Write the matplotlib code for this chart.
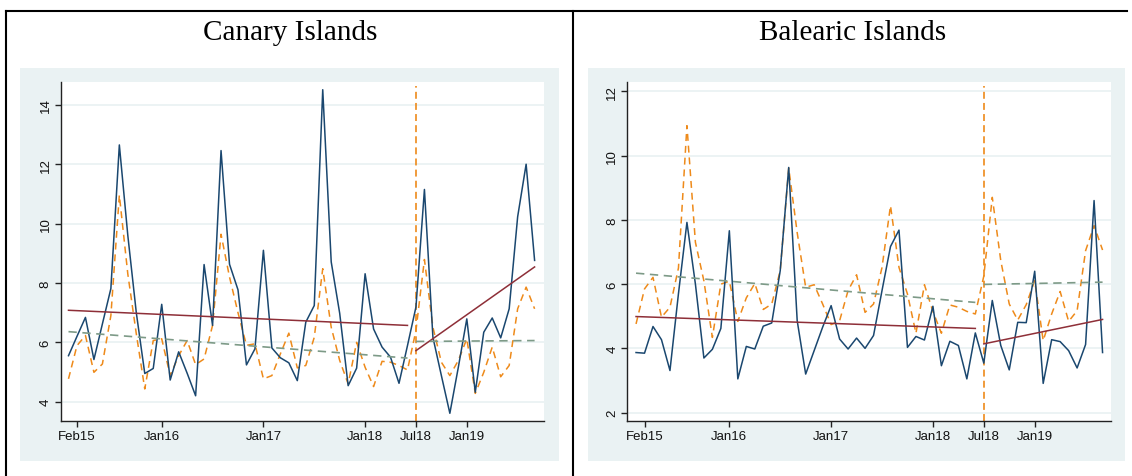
import matplotlib
matplotlib.use("Agg")
import matplotlib.pyplot as plt
from matplotlib.patches import Rectangle
from matplotlib.lines import Line2D
import numpy as np

# ---------------- data ----------------
tick_pos = [1, 11, 23, 35, 41, 47]
tick_labels = ["Feb15", "Jan16", "Jan17", "Jan18", "Jul18", "Jan19"]
break_idx = 41

canary_solid = [5.55, 6.2, 6.84, 5.42, 6.62, 7.81, 12.65, 9.6, 7.0, 4.95,
                5.12, 7.28, 4.73, 5.68, 4.96, 4.20, 8.62, 6.57, 12.46, 8.63,
                7.77, 5.24, 5.78, 9.10, 5.81, 5.48, 5.31, 4.71, 6.68, 7.24,
                14.51, 8.71, 6.98, 4.54, 5.13, 8.31, 6.45, 5.84, 5.50, 4.62,
                5.89, 7.19, 11.15, 6.17, 4.88, 3.61, 5.16, 6.79, 4.32, 6.34,
                6.82, 6.15, 7.13, 10.23, 12.0, 8.76]
canary_dashed = [4.77, 5.89, 6.23, 4.99, 5.27, 6.9, 10.96, 8.3, 6.29, 4.43,
                 6.06, 6.12, 4.88, 5.55, 6.06, 5.25, 5.44, 6.57, 9.64, 8.2,
                 7.0, 5.9, 5.95, 4.77, 4.88, 5.61, 6.31, 5.14, 5.22, 6.17,
                 8.48, 6.51, 5.39, 4.6, 6.0, 5.16, 4.51, 5.36, 5.33, 5.22,
                 5.07, 6.4, 8.79, 6.51, 5.33, 4.88, 5.39, 6.12, 4.28, 4.99,
                 5.84, 4.84, 5.22, 7.13, 7.86, 7.13]
canary_fit_solid_pre = [7.08, 6.57]
canary_fit_solid_post = [5.72, 8.54]
canary_fit_dash_pre = [6.36, 5.47]
canary_fit_dash_post = [6.03, 6.06]

balearic_solid = [3.87, 3.85, 4.68, 4.27, 3.31, 5.7, 7.92, 6.0, 3.70, 3.97,
                  4.62, 7.66, 3.05, 4.06, 3.98, 4.69, 4.79, 6.42, 9.63, 4.86,
                  3.20, 3.93, 4.66, 5.33, 4.29, 3.98, 4.32, 4.0, 4.40, 5.80,
                  7.17, 7.68, 4.03, 4.37, 4.26, 5.31, 3.46, 4.22, 4.09, 3.05,
                  4.48, 3.54, 5.49, 4.09, 3.33, 4.81, 4.80, 6.40, 2.91, 4.27,
                  4.21, 3.93, 3.39, 4.12, 8.60, 3.87]
balearic_dashed = [4.76, 5.85, 6.21, 4.97, 5.28, 6.5, 10.93, 7.3, 6.1, 4.34,
                   6.0, 6.09, 4.84, 5.57, 6.02, 5.21, 5.38, 6.42, 9.61, 7.6,
                   5.9, 5.98, 5.38, 4.74, 4.86, 5.80, 6.29, 5.12, 5.38, 6.52,
                   8.44, 6.52, 5.69, 4.47, 5.98, 5.15, 4.47, 5.35, 5.28, 5.15,
                   5.07, 6.25, 8.70, 6.73, 5.38, 4.88, 5.36, 6.11, 4.24, 5.07,
                   5.77, 4.84, 5.17, 7.04, 7.82, 7.06]
balearic_fit_solid_pre = [4.99, 4.62]
balearic_fit_solid_post = [4.14, 4.90]
balearic_fit_dash_pre = [6.34, 5.43]
balearic_fit_dash_post = [5.99, 6.06]

titles = ["Canary Islands", "Balearic Islands"]

# ---------------- style ----------------
W, H = 1132, 477
NAVY = "#1a476f"
ORANGE = "#ee8a1a"
MAROON = "#8e2f38"
GREEN = "#7d9a87"
BAND = "#eaf2f3"
GRID = "#eaf2f3"

plt.rcParams["lines.scale_dashes"] = False
plt.rcParams["font.family"] = ["Liberation Sans", "DejaVu Sans"]

fig = plt.figure(figsize=(W / 100, H / 100), dpi=100)
fig.patch.set_facecolor("white")


def fig_rect(x0, y0, x1, y1):
    return [x0 / W, 1 - y1 / H, (x1 - x0) / W, (y1 - y0) / H]


# bluish graph regions
for (bx0, bx1) in [(20, 559), (588, 1125)]:
    r = fig_rect(bx0, 69, bx1, 462)
    fig.add_artist(Rectangle((r[0], r[1]), r[2], r[3], transform=fig.transFigure,
                             facecolor=BAND, edgecolor="none", zorder=0))

# table-like frame
fig.add_artist(Line2D([6 / W, 1127 / W], [1 - 11.5 / H, 1 - 11.5 / H],
                      transform=fig.transFigure, color="black", lw=1.5))
for xv in [6, 573]:
    fig.add_artist(Line2D([xv / W, xv / W], [1 - 11.5 / H, 0],
                          transform=fig.transFigure, color="black", lw=1.5))

# titles
for t, cx in zip(titles, [290, 853]):
    fig.text(cx / W, 1 - 33 / H, t, ha="center", va="center",
             fontsize=21, family=["Liberation Serif", "DejaVu Serif"], color="black")

panels = [
    dict(rect=fig_rect(60.7, 83.3, 543.5, 421.7), ylim=(3.36, 14.76), yticks=[4, 6, 8, 10, 12, 14],
         xlim=(-0.92, 56.05), solid=canary_solid, dashed=canary_dashed,
         fsp=canary_fit_solid_pre, fspo=canary_fit_solid_post,
         fdp=canary_fit_dash_pre, fdpo=canary_fit_dash_post),
    dict(rect=fig_rect(627.3, 83.3, 1110.7, 422.3), ylim=(1.73, 12.28), yticks=[2, 4, 6, 8, 10, 12],
         xlim=(-1.03, 55.96), solid=balearic_solid, dashed=balearic_dashed,
         fsp=balearic_fit_solid_pre, fspo=balearic_fit_solid_post,
         fdp=balearic_fit_dash_pre, fdpo=balearic_fit_dash_post),
]

for p in panels:
    ax = fig.add_axes(p["rect"])
    ax.set_facecolor("white")
    n = len(p["solid"])
    x = np.arange(n)
    ax.set_xlim(*p["xlim"])
    ax.set_ylim(*p["ylim"])
    ax.set_yticks(p["yticks"])
    ax.set_yticklabels([str(v) for v in p["yticks"]], rotation=90, va="center")
    ax.set_xticks(tick_pos)
    ax.set_xticklabels(tick_labels)
    ax.grid(axis="y", color=GRID, lw=1.3, zorder=0)
    ax.set_axisbelow(True)
    for s in ["top", "right"]:
        ax.spines[s].set_visible(False)
    for s in ["left", "bottom"]:
        ax.spines[s].set_color("#222222")
        ax.spines[s].set_linewidth(1.0)
    ax.tick_params(axis="both", length=4.5, width=1.0, color="#222222",
                   labelsize=9.5, labelcolor="#111111", pad=2)

    # series
    ax.plot(x, p["dashed"], color=ORANGE, lw=1.1, dashes=(5, 3.5), zorder=3)
    ax.plot(x, p["solid"], color=NAVY, lw=1.1, zorder=4)
    pre_x = [0, break_idx - 1]
    post_x = [break_idx, n - 1]
    ax.plot(pre_x, p["fsp"], color=MAROON, lw=1.1, zorder=5)
    ax.plot(post_x, p["fspo"], color=MAROON, lw=1.1, zorder=5)
    ax.plot(pre_x, p["fdp"], color=GREEN, lw=1.2, dashes=(6, 4), zorder=5)
    ax.plot(post_x, p["fdpo"], color=GREEN, lw=1.2, dashes=(6, 4), zorder=5)
    ax.axvline(break_idx, ymin=0, ymax=0.99, color=ORANGE, lw=1.2, dashes=(5, 3), zorder=2)

fig.savefig("out.png", dpi=100, facecolor="white")
